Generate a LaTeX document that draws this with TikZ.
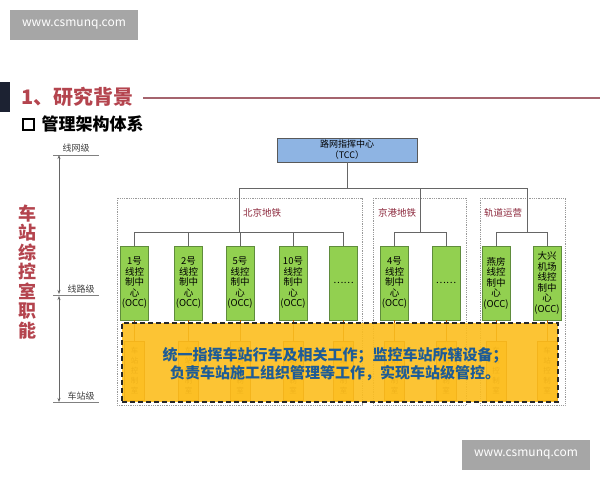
\documentclass[tikz,border=0pt]{standalone}
\usepackage{fontspec}
\setmainfont{Noto Sans CJK SC}
\usepackage{tikz}
\usetikzlibrary{arrows.meta}
\definecolor{titlered}{RGB}{180,68,78}
\definecolor{rulered}{RGB}{165,100,110}
\definecolor{navy}{RGB}{28,34,50}
\definecolor{tccblue}{RGB}{142,180,227}
\definecolor{occgreen}{RGB}{146,208,80}
\definecolor{occline}{RGB}{95,140,60}
\definecolor{grouptext}{RGB}{140,40,60}
\definecolor{dutyfill}{RGB}{252,190,30}
\definecolor{dutyblue}{RGB}{30,92,150}
\definecolor{markgray}{RGB}{166,166,166}
\tikzset{
  markbox/.style={fill=markgray, text=white, minimum width=128pt, minimum height=30pt, inner sep=0pt, font=\fontsize{12}{12}\selectfont},
  tree/.style={draw=gray!80!black, line width=0.7pt},
  occ/.style={draw=occline, fill=occgreen, minimum width=28pt, minimum height=74pt, inner sep=0pt, align=center, font=\fontsize{9.5}{10.5}\selectfont},
  group/.style={draw=gray!80, densely dotted, line width=0.8pt},
  grouplabel/.style={text=grouptext, font=\fontsize{9.5}{10}\selectfont},
  room/.style={draw=orange!70!black, fill=dutyfill!70, minimum width=20pt, minimum height=59pt, inner sep=0pt, align=center, text=orange!50!black, font=\fontsize{7.5}{10}\selectfont},
  level/.style={text=black!75, font=\fontsize{9}{9}\selectfont},
}
\begin{document}
\begin{tikzpicture}[x=1pt,y=-1pt]
\useasboundingbox (0,0) rectangle (600,480);
% watermarks
\node[markbox] (wm1) at (74,25) {www.csmunq.com};
\node[markbox] (wm2) at (526,455) {www.csmunq.com};
% heading
\fill[navy] (0,82) rectangle (10,112);
\node[anchor=west, text=titlered, font=\fontsize{20}{20}\selectfont\bfseries] (title) at (18,97) {1、研究背景};
\draw[rulered, line width=1.4pt] (title.east) ++(6,1) -- (600,98);
\node[draw, line width=1.8pt, minimum size=11pt, inner sep=0pt] (tick) at (28.5,124.5) {};
\node[anchor=west, font=\fontsize{17}{17}\selectfont\bfseries] (sub) at (38,124) {管理架构体系};
% levels on the left
\draw[gray, line width=0.6pt] (53,155) -- (99,155);
\draw[gray, line width=0.6pt] (53,295) -- (99,295);
\draw[gray, line width=0.6pt] (53,402) -- (99,402);
\draw[gray!80!black, line width=0.6pt, {Stealth[length=4pt,width=3pt]}-{Stealth[length=4pt,width=3pt]}] (59,155) -- (59,294);
\draw[gray!80!black, line width=0.6pt, {Stealth[length=4pt,width=3pt]}-{Stealth[length=4pt,width=3pt]}] (59,296) -- (59,402);
\node[level] (l1) at (76,148) {线网级};
\node[level] (l2) at (81,289) {线路级};
\node[level] (l3) at (81,396) {车站级};
\node[align=center, text=titlered, font=\fontsize{18}{19.5}\selectfont\bfseries] (role) at (27,272) {车\\站\\综\\控\\室\\职\\能};
% line groups
\draw[group] (117,198) rectangle (362,405);
\draw[group] (373,198) rectangle (466,405);
\draw[group] (480,198) rectangle (565,405);
\node[grouplabel] (bjl) at (262,213) {北京地铁};
\node[grouplabel] (jgl) at (397,213) {京港地铁};
\node[grouplabel] (gdl) at (503,213) {轨道运营};
% network centre
\node[draw=gray!70!black, fill=tccblue, minimum width=140pt, minimum height=24pt, inner sep=0pt, align=center, font=\fontsize{9}{11}\selectfont] (tcc) at (347,150) {路网指挥中心\\（TCC）};
% line centres
\node[occ] (o1) at (134.5,283) {1号\\线控\\制中\\心\\(OCC)};
\node[occ] (o2) at (188.5,283) {2号\\线控\\制中\\心\\(OCC)};
\node[occ] (o3) at (240,283) {5号\\线控\\制中\\心\\(OCC)};
\node[occ] (o4) at (293,283) {10号\\线控\\制中\\心\\(OCC)};
\node[occ] (o5) at (343.5,283) {……};
\node[occ] (o6) at (394.5,283) {4号\\线控\\制中\\心\\(OCC)};
\node[occ] (o7) at (446,283) {……};
\node[occ] (o8) at (496,283) {燕房\\线控\\制中\\心\\(OCC)};
\node[occ] (o9) at (547,283) {大兴\\机场\\线控\\制中\\心\\(OCC)};
% tree
\coordinate (bj) at (239,188);
\coordinate (jg) at (420,188);
\coordinate (gd) at (527,188);
\coordinate (bjm) at (239,232);
\coordinate (jgm) at (420,232);
\coordinate (gdm) at (527,232);
\draw[tree] (tcc.south) -- (tcc.south |- bj);
\draw[tree] (bj) -- (gd);
\draw[tree] (bj) -- (bjm);
\draw[tree] (jg) -- (jgm);
\draw[tree] (gd) -- (gdm);
\draw[tree] (o1.north |- bjm) -- (o5.north |- bjm);
\draw[tree] (o6.north |- jgm) -- (o7.north |- jgm);
\draw[tree] (o8.north |- gdm) -- (o9.north |- gdm);
\foreach \n/\m in {o1/bjm,o2/bjm,o3/bjm,o4/bjm,o5/bjm,o6/jgm,o7/jgm,o8/gdm,o9/gdm}
  \draw[tree] (\n.north |- \m) -- (\n.north);
% station rooms
\foreach \n in {1,...,9}{
  \node[room] (r\n) at (o\n |- 0,370.5) {车\\站\\控\\制\\室};
  \draw[orange!70!black, line width=0.6pt] (o\n.south) -- (r\n.north);
}
% station duties
\node[draw=black!85, fill=dutyfill, fill opacity=0.9, dashed, dash pattern=on 5pt off 3pt, line width=1.6pt, minimum width=436pt, minimum height=79pt] (duty) at (340,362.5) {};
\node[align=center, text=dutyblue, font=\fontsize{15}{18}\selectfont\bfseries] (dutytext) at (335,364) {统一指挥车站行车及相关工作；监控车站所辖设备；\\负责车站施工组织管理等工作，实现车站级管控。};
\end{tikzpicture}
\end{document}
